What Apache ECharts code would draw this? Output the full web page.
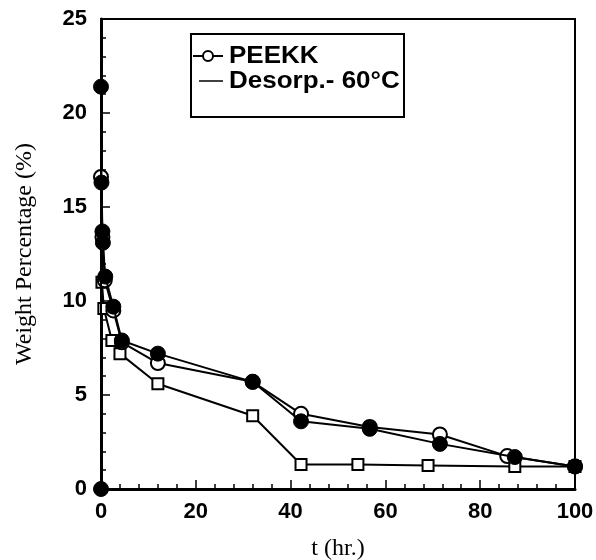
<!DOCTYPE html>
<html><head><meta charset="utf-8">
<script src="https://cdn.jsdelivr.net/npm/echarts@6/dist/echarts.min.js"></script>
<style>html,body{margin:0;padding:0;background:#fff}#c{width:596px;height:560px}</style>
</head><body><div id="c"></div>
<script>
// Data
const xTicks = [0, 20, 40, 60, 80, 100];
const yTicks = [0, 5, 10, 15, 20, 25];
const filledT = [0, 0, 0.1, 0.3, 0.4, 0.9, 2.6, 4.4, 12, 32, 42.2, 56.7, 71.5, 87.3, 100];
const filledV = [0, 21.4, 16.3, 13.7, 13.1, 11.3, 9.7, 7.9, 7.2, 5.7, 3.6, 3.2, 2.4, 1.7, 1.2];
const openT = [0, 0.3, 0.8, 2.6, 4.4, 12, 32, 42.2, 56.7, 71.5, 85.7, 100];
const openV = [16.6, 13.4, 11.1, 9.5, 7.8, 6.7, 5.7, 4.0, 3.3, 2.9, 1.75, 1.2];
const squareT = [0.2, 0.6, 2.3, 4.0, 12, 32, 42.2, 54.2, 69, 87.3, 100];
const squareV = [11.0, 9.6, 7.9, 7.2, 5.6, 3.9, 1.3, 1.3, 1.25, 1.2, 1.2];
const legendLabels = ['PEEKK', 'Desorp.- 60°C'];
const xTitle = 't (hr.)';
const yTitle = 'Weight Percentage (%)';

const zip = (a, b) => a.map((v, i) => [v, b[i]]);
const chart = echarts.init(document.getElementById('c'));
const labelFont = {fontFamily: 'Liberation Sans, Arial', fontWeight: 'bold', fontSize: 22, color: '#000'};
chart.setOption({
  animation: false,
  backgroundColor: '#fff',
  grid: {left: 101, top: 19, right: 21, bottom: 71, show: true, borderColor: '#000', borderWidth: 2, containLabel: false, outerBoundsMode: 'none'},
  xAxis: {
    type: 'value', min: xTicks[0], max: xTicks[xTicks.length - 1], interval: 20,
    axisLine: {show: true, onZero: false, lineStyle: {color: '#000', width: 3}},
    axisTick: {show: true, inside: true, length: 9, lineStyle: {color: '#000', width: 1.5}},
    minorTick: {show: true, splitNumber: 5, length: 5, lineStyle: {color: '#000', width: 1.5}},
    splitLine: {show: false},
    axisLabel: Object.assign({margin: 12}, labelFont),
    name: xTitle, nameLocation: 'middle', nameGap: 48,
    nameTextStyle: {fontFamily: 'Liberation Serif, Times New Roman', fontSize: 24, color: '#000'}
  },
  yAxis: {
    type: 'value', min: yTicks[0], max: yTicks[yTicks.length - 1], interval: 5,
    axisLine: {show: true, onZero: false, lineStyle: {color: '#000', width: 3}},
    axisTick: {show: true, inside: true, length: 9, lineStyle: {color: '#000', width: 1.5}},
    minorTick: {show: true, splitNumber: 5, length: 5, lineStyle: {color: '#000', width: 1.5}},
    splitLine: {show: false},
    axisLabel: Object.assign({margin: 14}, labelFont),
    name: yTitle, nameLocation: 'middle', nameGap: 64, nameRotate: 90,
    nameTextStyle: {fontFamily: 'Liberation Serif, Times New Roman', fontSize: 24, color: '#000'}
  },
  series: [
    {type: 'line', data: zip(squareT, squareV), symbol: 'rect', symbolSize: 11,
     lineStyle: {color: '#000', width: 2}, itemStyle: {color: '#fff', borderColor: '#000', borderWidth: 2}, z: 2},
    {type: 'line', data: zip(openT, openV), symbol: 'circle', symbolSize: 14,
     lineStyle: {color: '#000', width: 2}, itemStyle: {color: '#fff', borderColor: '#000', borderWidth: 2}, z: 3},
    {type: 'line', data: zip(filledT, filledV), symbol: 'circle', symbolSize: 15,
     lineStyle: {color: '#000', width: 2}, itemStyle: {color: '#000', borderColor: '#000', borderWidth: 1}, z: 4}
  ],
  graphic: [
    {type: 'rect', left: 190, top: 33, shape: {width: 213, height: 83}, style: {fill: '#fff', stroke: '#000', lineWidth: 2}, z: 10},
    {type: 'line', shape: {x1: 193, y1: 56, x2: 223, y2: 56}, style: {stroke: '#000', lineWidth: 2}, z: 11},
    {type: 'circle', shape: {cx: 208, cy: 56, r: 5}, style: {fill: '#fff', stroke: '#000', lineWidth: 2}, z: 12},
    {type: 'text', x: 229, y: 57, scaleX: 1.13, style: {text: legendLabels[0], font: 'bold 23px "Liberation Sans", Arial', fill: '#000', textVerticalAlign: 'middle', verticalAlign: 'middle'}, z: 12},
    {type: 'line', shape: {x1: 199, y1: 81, x2: 223, y2: 81}, style: {stroke: '#000', lineWidth: 1.5}, z: 11},
    {type: 'text', x: 229, y: 82, scaleX: 1.13, style: {text: legendLabels[1], font: 'bold 23px "Liberation Sans", Arial', fill: '#000', textVerticalAlign: 'middle', verticalAlign: 'middle'}, z: 12}
  ]
});
</script></body></html>
